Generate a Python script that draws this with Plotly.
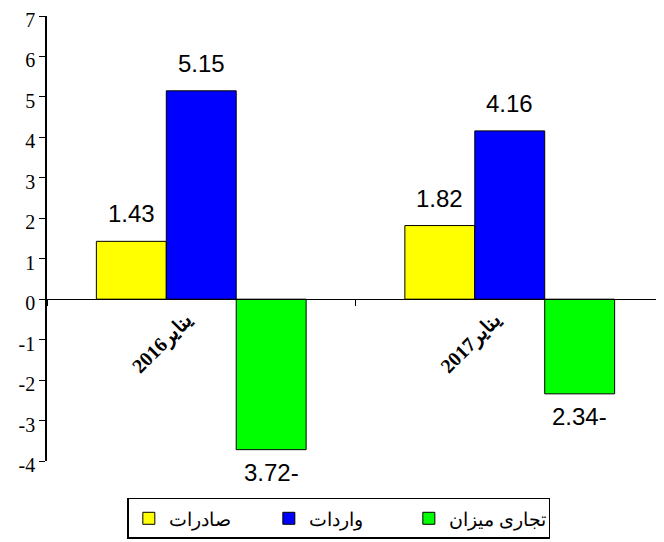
import plotly.graph_objects as go

categories = ["يناير2016", "يناير2017"]
exports = [1.43, 1.82]
imports = [5.15, 4.16]
balance = [-3.72, -2.34]
series_names = ["صادرات", "واردات", "تجاری میزان"]
series_colors = ["#FFFF00", "#0000FF", "#00FF00"]
y_ticks = [-4, -3, -2, -1, 0, 1, 2, 3, 4, 5, 6, 7]

def fmt(v):
    return f"{abs(v):.2f}-" if v < 0 else f"{v:.2f}"

fig = go.Figure()
series = [exports, imports, balance]
for name, vals, col in zip(series_names, series, series_colors):
    fig.add_trace(go.Bar(
        x=categories, y=vals, name=name,
        marker=dict(color=col, line=dict(color="black", width=1)),
    ))

bargap = 0.32
nser = len(series)
bw = (1 - bargap) / nser
for si, vals in enumerate(series):
    off = (si - (nser - 1) / 2) * bw
    for ci, v in enumerate(vals):
        fig.add_annotation(
            x=ci + off, y=v, xref="x", yref="y",
            text=fmt(v), showarrow=False,
            yanchor="bottom" if v >= 0 else "top",
            yshift=12 if v >= 0 else -7,
            font=dict(family="Liberation Sans, Arial", size=24, color="black"),
        )

ymin, ymax = y_ticks[0], y_ticks[-1]
# the page body has an 8px margin, so the figure is 8px smaller and margins reduced
fig.update_layout(
    width=656, height=534,
    margin=dict(l=39, r=0, t=8, b=81, autoexpand=False),
    plot_bgcolor="white", paper_bgcolor="white",
    barmode="group", bargap=bargap, bargroupgap=0,
    showlegend=True,
    legend=dict(
        orientation="h", x=0.473, xanchor="center", y=-0.083, yanchor="top",
        bordercolor="black", borderwidth=1.5,
        font=dict(family="Liberation Sans, Arial", size=19, color="black"),
        traceorder="normal", entrywidth=95, entrywidthmode="pixels",
    ),
    xaxis=dict(
        anchor="free", position=(0 - ymin) / (ymax - ymin),
        range=[-0.5, 1.5], automargin=False,
        showline=True, linecolor="black", linewidth=1,
        ticks="outside", tickson="boundaries", ticklen=6, tickcolor="black",
        tickangle=-45, ticklabelshift=-15, ticklabeloverflow="allow",
        tickfont=dict(family="Liberation Serif, Times New Roman", size=20, color="black", weight="bold"),
        showgrid=False, zeroline=False,
    ),
    yaxis=dict(
        range=[ymin, ymax], automargin=False, ticklabeloverflow="allow",
        tickvals=y_ticks, ticktext=[str(t) for t in y_ticks],
        ticklabelshift=4,
        showline=True, linecolor="black", linewidth=1.5,
        ticks="outside", ticklen=6, tickcolor="black",
        tickfont=dict(family="Liberation Serif, Times New Roman", size=20, color="black"),
        showgrid=False, zeroline=False,
    ),
)

fig.write_html("out.html")
